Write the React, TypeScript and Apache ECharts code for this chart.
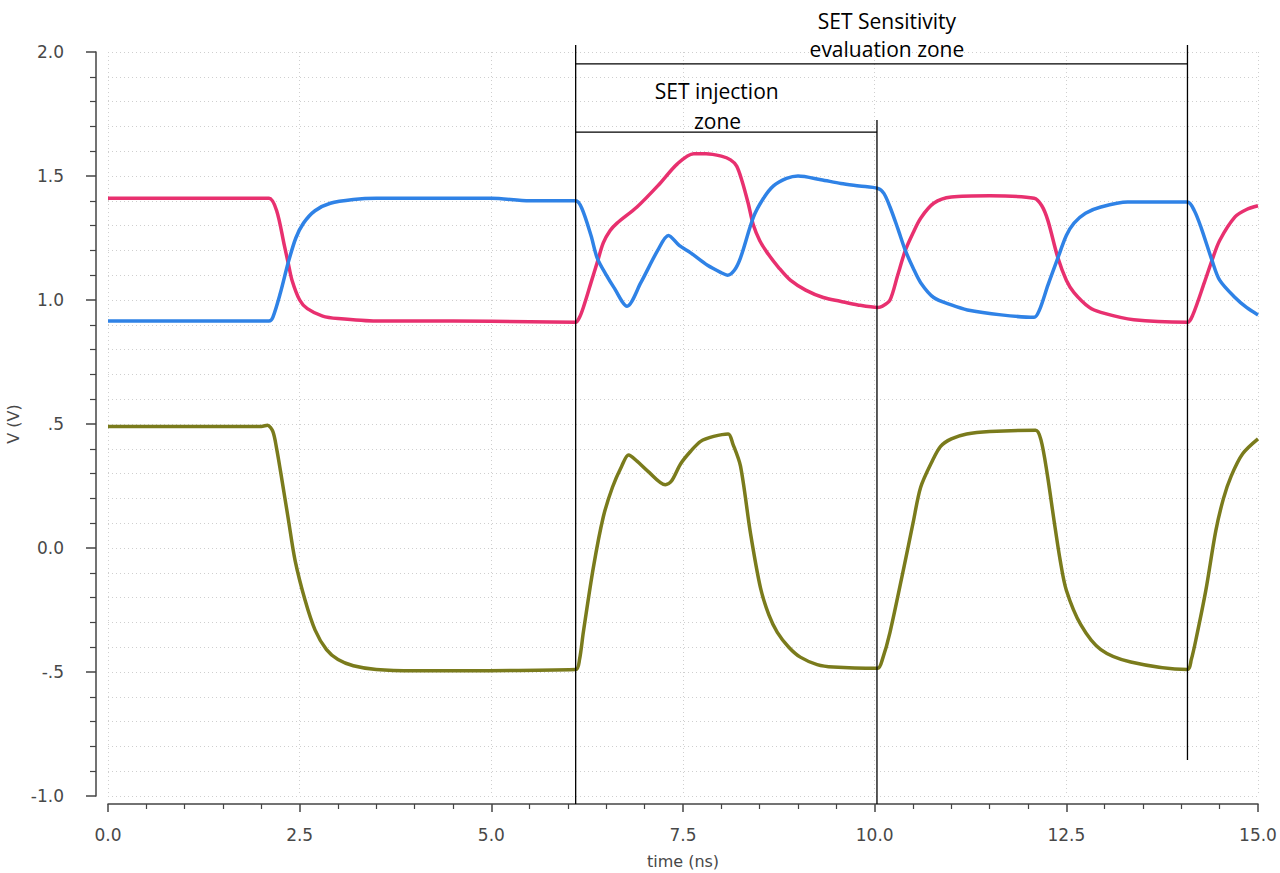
import React, { useEffect, useRef } from "react";
import * as echarts from "echarts";

// ---- data (time in ns, voltage in V) ----
const tPink = [0, 2.0, 2.1, 2.2, 2.3, 2.35, 2.4, 2.5, 2.6, 2.8, 3.0, 3.5, 4.5, 5.5, 6.1, 6.15, 6.2, 6.3, 6.38, 6.46, 6.55, 6.64, 6.9, 7.17, 7.43, 7.64, 7.8, 8.0, 8.12, 8.2, 8.27, 8.35, 8.42, 8.5, 8.6, 8.75, 8.9, 9.1, 9.33, 9.55, 9.78, 10.04, 10.1, 10.2, 10.3, 10.4, 10.5, 10.6, 10.77, 11.0, 11.5, 12.08, 12.18, 12.26, 12.39, 12.5, 12.6, 12.8, 12.95, 13.38, 14.08, 14.15, 14.3, 14.4, 14.5, 14.7, 14.85, 15.0];
const vPink = [1.41, 1.41, 1.41, 1.36, 1.22, 1.15, 1.08, 1.0, 0.965, 0.935, 0.925, 0.915, 0.915, 0.912, 0.91, 0.93, 0.97, 1.07, 1.15, 1.23, 1.28, 1.31, 1.375, 1.46, 1.55, 1.59, 1.59, 1.58, 1.565, 1.54, 1.48, 1.39, 1.3, 1.24, 1.19, 1.13, 1.08, 1.04, 1.01, 0.995, 0.98, 0.97, 0.975, 1.0, 1.1, 1.2, 1.27, 1.33, 1.39, 1.415, 1.42, 1.41, 1.38, 1.32, 1.17, 1.08, 1.03, 0.97, 0.95, 0.92, 0.91, 0.94, 1.07, 1.16, 1.24, 1.335, 1.365, 1.38];

const tBlue = [0, 2.1, 2.15, 2.25, 2.35, 2.45, 2.55, 2.7, 2.9, 3.2, 3.5, 5.0, 5.5, 6.1, 6.18, 6.3, 6.38, 6.5, 6.6, 6.77, 6.95, 7.17, 7.31, 7.45, 7.6, 7.82, 8.0, 8.08, 8.17, 8.25, 8.42, 8.55, 8.68, 8.85, 9.0, 9.3, 9.56, 9.8, 10.04, 10.12, 10.2, 10.3, 10.4, 10.5, 10.6, 10.77, 11.0, 11.21, 11.65, 12.08, 12.15, 12.26, 12.39, 12.5, 12.6, 12.75, 12.95, 13.3, 14.08, 14.17, 14.26, 14.4, 14.5, 14.7, 14.85, 15.0];
const vBlue = [0.915, 0.915, 0.93, 1.03, 1.15, 1.25, 1.31, 1.36, 1.39, 1.405, 1.41, 1.41, 1.40, 1.40, 1.37, 1.26, 1.17, 1.1, 1.05, 0.975, 1.07, 1.2, 1.26, 1.22, 1.19, 1.14, 1.11, 1.1, 1.12, 1.17, 1.335, 1.41, 1.46, 1.49, 1.5, 1.485, 1.47, 1.46, 1.45, 1.43, 1.375, 1.29, 1.2, 1.13, 1.07, 1.01, 0.98, 0.96, 0.94, 0.93, 0.96, 1.06, 1.17, 1.26, 1.31, 1.35, 1.375, 1.395, 1.395, 1.36, 1.29, 1.16, 1.08, 1.01, 0.97, 0.94];

const tOlive = [0, 2.0, 2.08, 2.15, 2.2, 2.25, 2.35, 2.44, 2.57, 2.7, 2.85, 3.0, 3.2, 3.5, 4.0, 6.1, 6.15, 6.2, 6.33, 6.46, 6.58, 6.7, 6.79, 6.9, 7.04, 7.27, 7.35, 7.47, 7.6, 7.73, 7.9, 8.09, 8.15, 8.25, 8.38, 8.51, 8.62, 8.73, 8.88, 9.03, 9.25, 9.46, 10.04, 10.1, 10.2, 10.38, 10.5, 10.6, 10.75, 10.86, 11.0, 11.2, 11.5, 12.1, 12.17, 12.25, 12.34, 12.42, 12.5, 12.69, 12.95, 13.34, 14.08, 14.13, 14.19, 14.32, 14.45, 14.55, 14.65, 14.8, 15.0];
const vOlive = [0.49, 0.49, 0.495, 0.47, 0.4, 0.31, 0.12, -0.05, -0.21, -0.33, -0.41, -0.45, -0.475, -0.49, -0.495, -0.49, -0.45, -0.34, -0.08, 0.125, 0.245, 0.33, 0.375, 0.35, 0.31, 0.255, 0.27, 0.34, 0.39, 0.43, 0.45, 0.46, 0.42, 0.33, 0.06, -0.16, -0.27, -0.34, -0.4, -0.44, -0.47, -0.48, -0.485, -0.45, -0.34, -0.08, 0.1, 0.245, 0.35, 0.41, 0.44, 0.46, 0.47, 0.475, 0.435, 0.3, 0.11, -0.05, -0.17, -0.31, -0.41, -0.46, -0.49, -0.45, -0.37, -0.17, 0.07, 0.2, 0.29, 0.38, 0.44];

const yTickValues = [-1, -0.5, 0, 0.5, 1, 1.5, 2];
const yTickLabels = ["-1.0", "-.5", "0.0", ".5", "1.0", "1.5", "2.0"];
const xTickValues = [0, 2.5, 5, 7.5, 10, 12.5, 15];
const xTickLabels = ["0.0", "2.5", "5.0", "7.5", "10.0", "12.5", "15.0"];

// annotation markers (data coordinates)
const zoneStart = 6.1;
const injectionEnd = 10.03;
const evaluationEnd = 14.08;
const evalBarV = 1.952;
const injBarV = 1.677;
const vTopMain = 2.028;
const vTopInj = 1.726;
const vBottomAxis = -1.032;
const vBottomEval = -0.855;

const annotSegments: [number, number, number, number][] = [
  [zoneStart, vTopMain, zoneStart, vBottomAxis],
  [injectionEnd, vTopInj, injectionEnd, vBottomAxis],
  [evaluationEnd, vTopMain, evaluationEnd, vBottomEval],
  [zoneStart, evalBarV, evaluationEnd, evalBarV],
  [zoneStart, injBarV, injectionEnd, injBarV],
];

const annotLabels = [
  { text: "SET Sensitivity", t: 10.16, v: 2.125 },
  { text: "evaluation zone", t: 10.16, v: 2.012 },
  { text: "SET injection", t: 7.94, v: 1.843 },
  { text: "zone", t: 7.95, v: 1.722 },
];

const zip = (t: number[], v: number[]) => t.map((x, i) => [x, v[i]]);

export default function App() {
  const ref = useRef<HTMLDivElement>(null);
  useEffect(() => {
    if (!ref.current) return;
    const chart = echarts.init(ref.current, null, { renderer: "svg" });
    const axisFont = { fontFamily: "DejaVu Sans", fontSize: 17, color: "#484848" };
    const lineCommon = {
      type: "line" as const,
      showSymbol: false,
      symbol: "none",
      smooth: 0.3,
      clip: false,
    };
    const gridLine = { color: "#cfcfcf", type: [1, 3] as number[], width: 1 };
    chart.setOption({
      animation: false,
      backgroundColor: "#ffffff",
      grid: {
        left: 108,
        right: 22,
        top: 52,
        bottom: 77,
        containLabel: false,
        outerBoundsMode: "none",
      },
      xAxis: {
        type: "value",
        min: 0,
        max: 15,
        interval: 2.5,
        offset: 8,
        name: "time (ns)",
        nameLocation: "middle",
        nameGap: 49,
        nameMoveOverlap: false,
        nameTextStyle: { ...axisFont, fontSize: 16 },
        axisLine: { show: true, onZero: false, lineStyle: { color: "#444", width: 1.5 } },
        axisTick: { show: true, length: 8, lineStyle: { color: "#444", width: 1.5 } },
        minorTick: { show: true, splitNumber: 5, length: 5, lineStyle: { color: "#444", width: 1.2 } },
        axisLabel: {
          ...axisFont,
          margin: 22,
          formatter: (val: number) => {
            const i = xTickValues.findIndex((x) => Math.abs(x - val) < 1e-6);
            return i >= 0 ? xTickLabels[i] : "";
          },
        },
        splitLine: { show: true, lineStyle: gridLine },
        minorSplitLine: { show: false },
      },
      yAxis: {
        type: "value",
        min: -1,
        max: 2,
        interval: 0.5,
        offset: 12,
        name: "V (V)",
        nameLocation: "middle",
        nameGap: 75,
        nameMoveOverlap: false,
        nameRotate: 90,
        nameTextStyle: { ...axisFont, fontSize: 16 },
        axisLine: { show: true, onZero: false, lineStyle: { color: "#444", width: 1.5 } },
        axisTick: { show: true, length: 10, lineStyle: { color: "#444", width: 1.5 } },
        minorTick: { show: true, splitNumber: 5, length: 6, lineStyle: { color: "#444", width: 1.2 } },
        axisLabel: {
          ...axisFont,
          margin: 32,
          formatter: (val: number) => {
            const i = yTickValues.findIndex((x) => Math.abs(x - val) < 1e-6);
            return i >= 0 ? yTickLabels[i] : "";
          },
        },
        splitLine: { show: true, lineStyle: gridLine },
        minorSplitLine: { show: true, lineStyle: gridLine },
      },
      series: [
        {
          ...lineCommon,
          name: "out_b",
          data: zip(tPink, vPink),
          lineStyle: { color: "#e8306f", width: 3.5 },
          itemStyle: { color: "#e8306f" },
        },
        {
          ...lineCommon,
          name: "out",
          data: zip(tBlue, vBlue),
          lineStyle: { color: "#2f82e6", width: 3.5 },
          itemStyle: { color: "#2f82e6" },
        },
        {
          ...lineCommon,
          name: "diff",
          data: zip(tOlive, vOlive),
          lineStyle: { color: "#7a7b1c", width: 3.5 },
          itemStyle: { color: "#7a7b1c" },
        },
      ],
    });
    const px = (t: number, v: number) =>
      chart.convertToPixel({ gridIndex: 0 }, [t, v]) as number[];
    const lines = annotSegments.map(([t1, v1, t2, v2]) => {
      const a = px(t1, v1);
      const b = px(t2, v2);
      return {
        type: "line",
        silent: true,
        z: 10,
        shape: { x1: a[0], y1: a[1], x2: b[0], y2: b[1] },
        style: { stroke: "#000", lineWidth: 1.3 },
      };
    });
    const texts = annotLabels.map((a) => {
      const p = px(a.t, a.v);
      return {
        type: "text",
        x: p[0],
        y: p[1],
        silent: true,
        z: 10,
        style: {
          text: a.text,
          fontFamily: "Open Sans",
          fontSize: 21,
          fill: "#000",
          align: "center",
          verticalAlign: "middle",
        },
      };
    });
    chart.setOption({ graphic: [...lines, ...texts] });
    return () => chart.dispose();
  }, []);
  return (
    <div
      ref={ref}
      style={{ position: "fixed", left: 0, top: 0, width: 1280, height: 873 }}
    />
  );
}
